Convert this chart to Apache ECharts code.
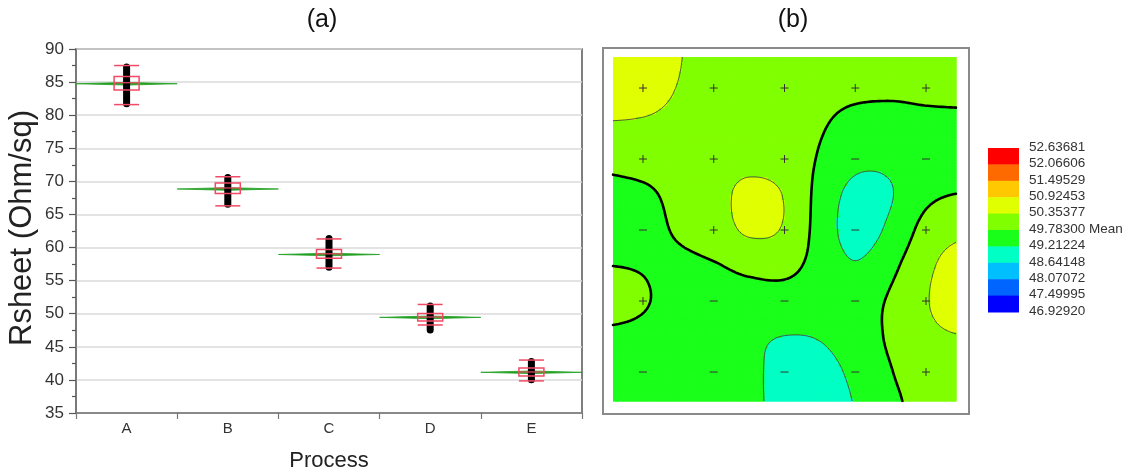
<!DOCTYPE html>
<html>
<head>
<meta charset="utf-8">
<script src="https://cdn.jsdelivr.net/npm/echarts@6/dist/echarts.min.js"></script>
<style>html,body{margin:0;padding:0;background:#fff}#chart{width:1131px;height:472px}</style>
</head>
<body>
<div id="chart"></div>
<script>
// ---------- Panel (a): Rsheet by process ----------
const categories = ['A', 'B', 'C', 'D', 'E'];
const meanValues   = [84.75, 68.85, 58.95, 49.45, 41.15];
const meanCILow    = [84.55, 68.65, 58.75, 49.25, 40.95];
const meanCIHigh   = [84.95, 69.05, 59.15, 49.65, 41.35];
const q1Values     = [83.8, 68.15, 58.4, 48.9, 40.6];
const medianValues = [84.9, 69.0, 59.05, 49.5, 41.2];
const q3Values     = [85.85, 69.75, 59.7, 50.05, 41.8];
const whiskerLow   = [81.6, 66.3, 56.9, 48.3, 39.85];
const whiskerHigh  = [87.5, 70.7, 61.3, 51.4, 43.0];
const pointMin     = [81.2, 66.0, 56.5, 47.0, 39.5];
const pointMax     = [87.8, 71.1, 61.9, 51.7, 43.3];
const yAxisMin = 35, yAxisMax = 90, yAxisStep = 5;

// ---------- Panel (b): wafer contour map ----------
// estimated Rsheet values on an 11x11 node grid (site units, nodes at -0.5,0,...,4.5), rows top->bottom
const fieldNodeStart = -0.5, fieldNodeStep = 0.5;
const fieldValues = [
  [50.868, 50.753, 50.382, 50.245, 50.131, 50.040, 50.000, 49.977, 49.971, 49.986, 49.994],
  [50.696, 50.605, 50.337, 50.217, 50.103, 50.006, 49.926, 49.880, 49.857, 49.880, 49.886],
  [50.325, 50.297, 50.217, 50.165, 50.103, 50.017, 49.834, 49.640, 49.623, 49.675, 49.703],
  [49.910, 49.994, 50.028, 50.154, 50.217, 50.103, 49.737, 49.366, 49.332, 49.492, 49.595],
  [49.660, 49.700, 49.926, 50.183, 50.468, 50.325, 49.606, 49.052, 49.184, 49.663, 49.800],
  [49.635, 49.663, 49.834, 50.074, 50.434, 50.297, 49.569, 48.984, 49.332, 49.971, 50.223],
  [49.783, 49.760, 49.697, 49.749, 49.909, 49.937, 49.589, 49.252, 49.646, 50.217, 50.639],
  [49.892, 49.812, 49.657, 49.566, 49.566, 49.549, 49.503, 49.543, 49.846, 50.314, 50.719],
  [49.726, 49.692, 49.595, 49.452, 49.326, 49.205, 49.246, 49.515, 49.857, 50.211, 50.342],
  [49.600, 49.583, 49.549, 49.429, 49.370, 48.973, 48.995, 49.349, 49.760, 50.040, 50.165],
  [49.526, 49.526, 49.475, 49.401, 49.370, 48.973, 48.870, 49.235, 49.663, 49.937, 50.051]
];
const siteCount = 5;
const contourLevels = [46.92920, 47.49995, 48.07072, 48.64148, 49.21224, 49.78300, 50.35377, 50.92453, 51.49529, 52.06606, 52.63681];
const bandColors = ['#0000ff', '#0064ff', '#00bfff', '#00ffc4', '#1aff1a', '#80ff00', '#e0ff00', '#ffc800', '#ff6a00', '#ff0000'];
const meanLevel = 49.78300;
const mapXRange = [-0.424, 4.424];
const mapYRange = [-0.437, 4.408];

// ---------- helpers ----------
function cr(p0, p1, p2, p3, t) {
  return 0.5 * (2 * p1 + (-p0 + p2) * t + (2 * p0 - 5 * p1 + 4 * p2 - p3) * t * t + (-p0 + 3 * p1 - 3 * p2 + p3) * t * t * t);
}
function fieldAt(x, y) {
  const n = fieldValues.length;
  const gx = (x - fieldNodeStart) / fieldNodeStep, gy = (y - fieldNodeStart) / fieldNodeStep;
  const ix = Math.max(0, Math.min(n - 2, Math.floor(gx)));
  const iy = Math.max(0, Math.min(n - 2, Math.floor(gy)));
  const tx = gx - ix, ty = gy - iy;
  const g = (r, c) => fieldValues[Math.max(0, Math.min(n - 1, r))][Math.max(0, Math.min(n - 1, c))];
  const rows = [];
  for (let k = -1; k <= 2; k++) {
    const r = iy + k;
    rows.push(cr(g(r, ix - 1), g(r, ix), g(r, ix + 1), g(r, ix + 2), tx));
  }
  return cr(rows[0], rows[1], rows[2], rows[3], ty);
}
function bandColor(v) {
  for (let k = 0; k < bandColors.length; k++) {
    if (v < contourLevels[k + 1]) return bandColors[k];
  }
  return bandColors[bandColors.length - 1];
}

// sample the surface
const N = 120;
const dx = (mapXRange[1] - mapXRange[0]) / N, dy = (mapYRange[1] - mapYRange[0]) / N;
const corner = [];
for (let j = 0; j <= N; j++) {
  const row = [];
  for (let i = 0; i <= N; i++) row.push(fieldAt(mapXRange[0] + i * dx, mapYRange[0] + j * dy));
  corner.push(row);
}
const cellData = [];
for (let j = 0; j < N; j++) {
  for (let i = 0; i < N; i++) {
    const x0 = mapXRange[0] + i * dx, y0 = mapYRange[0] + j * dy;
    cellData.push([x0, y0, x0 + dx, y0 + dy, fieldAt(x0 + dx / 2, y0 + dy / 2)]);
  }
}

// marching squares -> chained polylines
function contourPolylines(level) {
  const pts = {};
  const segs = [];
  function edgePoint(id, xa, ya, va, xb, yb, vb) {
    if (!pts[id]) {
      const t = (level - va) / (vb - va);
      pts[id] = [xa + t * (xb - xa), ya + t * (yb - ya)];
    }
    return id;
  }
  for (let j = 0; j < N; j++) {
    for (let i = 0; i < N; i++) {
      const x0 = mapXRange[0] + i * dx, y0 = mapYRange[0] + j * dy, x1 = x0 + dx, y1 = y0 + dy;
      const v00 = corner[j][i], v10 = corner[j][i + 1], v11 = corner[j + 1][i + 1], v01 = corner[j + 1][i];
      const ids = [];
      if ((v00 < level) !== (v10 < level)) ids.push(edgePoint('h' + i + '_' + j, x0, y0, v00, x1, y0, v10));
      if ((v10 < level) !== (v11 < level)) ids.push(edgePoint('v' + (i + 1) + '_' + j, x1, y0, v10, x1, y1, v11));
      if ((v01 < level) !== (v11 < level)) ids.push(edgePoint('h' + i + '_' + (j + 1), x0, y1, v01, x1, y1, v11));
      if ((v00 < level) !== (v01 < level)) ids.push(edgePoint('v' + i + '_' + j, x0, y0, v00, x0, y1, v01));
      if (ids.length === 2) segs.push([ids[0], ids[1]]);
      else if (ids.length === 4) {
        const c = (v00 + v10 + v11 + v01) / 4;
        if ((c < level) === (v00 < level)) { segs.push([ids[0], ids[1]]); segs.push([ids[2], ids[3]]); }
        else { segs.push([ids[0], ids[3]]); segs.push([ids[1], ids[2]]); }
      }
    }
  }
  const adj = {};
  segs.forEach((s, k) => { (adj[s[0]] = adj[s[0]] || []).push(k); (adj[s[1]] = adj[s[1]] || []).push(k); });
  const used = new Array(segs.length).fill(false);
  const lines = [];
  function walk(start, from) {
    const out = [];
    let cur = start, prevSeg = from;
    while (true) {
      const next = (adj[cur] || []).find(k => !used[k] && k !== prevSeg);
      if (next === undefined) break;
      used[next] = true;
      const s = segs[next];
      cur = s[0] === cur ? s[1] : s[0];
      out.push(cur);
      prevSeg = next;
    }
    return out;
  }
  segs.forEach((s, k) => {
    if (used[k]) return;
    used[k] = true;
    const fwd = walk(s[1], k);
    const bwd = walk(s[0], k);
    const chain = bwd.reverse().concat([s[0], s[1]]).concat(fwd);
    lines.push({ coords: chain.map(id => pts[id]) });
  });
  return lines;
}
const meanLines = contourPolylines(meanLevel);
let otherLines = [];
contourLevels.forEach(l => { if (l !== meanLevel) otherLines = otherLines.concat(contourPolylines(l)); });

// site markers (+ above mean, - below)
const siteData = [];
for (let r = 0; r < siteCount; r++) {
  for (let c = 0; c < siteCount; c++) {
    siteData.push([c, r, fieldValues[2 * r + 1][2 * c + 1] >= meanLevel ? 1 : -1]);
  }
}

// ---------- legend graphics ----------
const legendTop = 148, legendBand = 16.4, legendX = 988, legendW = 31;
const legendGraphics = [];
for (let k = 0; k < bandColors.length; k++) {
  legendGraphics.push({
    type: 'rect', left: legendX, top: legendTop + k * legendBand,
    shape: { width: legendW, height: legendBand + 0.5 },
    style: { fill: bandColors[bandColors.length - 1 - k] }
  });
}
for (let k = 0; k < contourLevels.length; k++) {
  const lv = contourLevels[contourLevels.length - 1 - k];
  legendGraphics.push({
    type: 'text', x: 1029, y: legendTop + k * legendBand - 1,
    style: {
      text: lv.toFixed(5) + (lv === meanLevel ? ' Mean' : ''),
      fontSize: 13.5, fill: '#333', fontFamily: 'Liberation Sans, Arial, sans-serif',
      align: 'left', verticalAlign: 'middle'
    }
  });
}

const boxData = categories.map((c, i) => [i, meanValues[i], meanCILow[i], meanCIHigh[i], q1Values[i], medianValues[i], q3Values[i], whiskerLow[i], whiskerHigh[i], pointMin[i], pointMax[i]]);

function renderBox(params, api) {
  const i = api.value(0);
  const bw = api.size([1, 0])[0];
  const y = v => api.coord([i, v])[1];
  const cx = api.coord([i, api.value(1)])[0];
  const ym = y(api.value(1));
  const red = '#f04a64';
  const half = 12.5, dotHalf = 3.5;
  const yq1 = y(api.value(4)), ymed = y(api.value(5)), yq3 = y(api.value(6));
  const ywl = y(api.value(7)), ywh = y(api.value(8));
  const ypmin = y(api.value(9)), ypmax = y(api.value(10));
  return {
    type: 'group',
    children: [
      { type: 'polygon', shape: { points: [[cx - bw / 2, ym], [cx, y(api.value(3))], [cx + bw / 2, ym], [cx, y(api.value(2))]] },
        style: { fill: '#22a022', stroke: '#22a022', lineWidth: 0.8 } },
      { type: 'line', shape: { x1: cx, y1: ywh, x2: cx, y2: ywl }, style: { stroke: red, lineWidth: 1.2 } },
      { type: 'rect', shape: { x: cx - dotHalf, y: ypmax, width: dotHalf * 2, height: ypmin - ypmax, r: dotHalf }, style: { fill: '#000' } },
      { type: 'rect', shape: { x: cx - half, y: yq3, width: half * 2, height: yq1 - yq3 }, style: { fill: 'rgba(0,0,0,0)', stroke: red, lineWidth: 1.5 } },
      { type: 'line', shape: { x1: cx - half, y1: ymed, x2: cx + half, y2: ymed }, style: { stroke: red, lineWidth: 1.2 } },
      { type: 'line', shape: { x1: cx - half, y1: ywh, x2: cx + half, y2: ywh }, style: { stroke: red, lineWidth: 1.5 } },
      { type: 'line', shape: { x1: cx - half, y1: ywl, x2: cx + half, y2: ywl }, style: { stroke: red, lineWidth: 1.5 } }
    ]
  };
}

const chart = echarts.init(document.getElementById('chart'), null, { renderer: 'canvas' });
chart.setOption({
  animation: false,
  backgroundColor: '#fff',
  textStyle: { fontFamily: 'Liberation Sans, Arial, sans-serif' },
  grid: [
    { left: 76, top: 49, width: 506, height: 364, show: true, borderColor: '#555', borderWidth: 1.5, backgroundColor: '#fff', containLabel: false, outerBoundsMode: 'none' },
    { left: 613, top: 57, width: 343, height: 344, show: false, containLabel: false, outerBoundsMode: 'none' }
  ],
  xAxis: [
    { gridIndex: 0, type: 'category', data: categories, boundaryGap: true,
      axisLine: { lineStyle: { color: '#777', width: 1.5 } },
      axisTick: { show: true, length: 6, lineStyle: { color: '#777', width: 1.2 } },
      axisLabel: { fontSize: 15, color: '#333', margin: 8 },
      name: 'Process', nameLocation: 'middle', nameGap: 37,
      nameTextStyle: { fontSize: 22, color: '#222' } },
    { gridIndex: 1, type: 'value', min: mapXRange[0], max: mapXRange[1], show: false }
  ],
  yAxis: [
    { gridIndex: 0, type: 'value', min: yAxisMin, max: yAxisMax, interval: yAxisStep,
      axisLine: { show: true, lineStyle: { color: '#777', width: 1.5 } },
      axisTick: { show: true, length: 7, lineStyle: { color: '#555', width: 1.2 } },
      minorTick: { show: true, splitNumber: 2, length: 4, lineStyle: { color: '#555', width: 1.2 } },
      splitLine: { show: true, lineStyle: { color: '#dadada', width: 1.5 } },
      axisLabel: { fontSize: 17, color: '#333', margin: 12 } },
    { gridIndex: 1, type: 'value', min: mapYRange[0], max: mapYRange[1], inverse: true, show: false }
  ],
  graphic: [
    { type: 'text', x: 322, y: 20, style: { text: '(a)', fontSize: 25, fill: '#111', align: 'center', verticalAlign: 'middle', fontFamily: 'Liberation Sans, Arial, sans-serif' } },
    { type: 'text', x: 793, y: 20, style: { text: '(b)', fontSize: 25, fill: '#111', align: 'center', verticalAlign: 'middle', fontFamily: 'Liberation Sans, Arial, sans-serif' } },
    { type: 'text', x: 22, y: 228, rotation: Math.PI / 2, style: { text: 'Rsheet (Ohm/sq)', fontSize: 31, fill: '#222', align: 'center', verticalAlign: 'middle', fontFamily: 'Liberation Sans, Arial, sans-serif' } },
    { type: 'rect', left: 602, top: 47, shape: { width: 366, height: 366 }, style: { fill: 'rgba(0,0,0,0)', stroke: '#8a8a8a', lineWidth: 2 } }
  ].concat(legendGraphics),
  series: [
    { type: 'custom', name: 'Rsheet', xAxisIndex: 0, yAxisIndex: 0, data: boxData, renderItem: renderBox,
      encode: { x: 0, y: [1, 2, 3, 4, 5, 6, 7, 8, 9, 10] }, silent: true },
    { type: 'custom', name: 'map', xAxisIndex: 1, yAxisIndex: 1, data: cellData, clip: true, silent: true,
      encode: { x: [0, 2], y: [1, 3] },
      renderItem: function (params, api) {
        const p0 = api.coord([api.value(0), api.value(1)]);
        const p1 = api.coord([api.value(2), api.value(3)]);
        return { type: 'rect',
          shape: { x: Math.min(p0[0], p1[0]), y: Math.min(p0[1], p1[1]), width: Math.abs(p1[0] - p0[0]) + 0.7, height: Math.abs(p1[1] - p0[1]) + 0.7 },
          style: { fill: bandColor(api.value(4)) } };
      } },
    { type: 'lines', name: 'levels', coordinateSystem: 'cartesian2d', xAxisIndex: 1, yAxisIndex: 1, polyline: true,
      data: otherLines, silent: true, lineStyle: { color: '#4a4a3a', width: 0.9, opacity: 1 } },
    { type: 'lines', name: 'mean', coordinateSystem: 'cartesian2d', xAxisIndex: 1, yAxisIndex: 1, polyline: true,
      data: meanLines, silent: true, lineStyle: { color: '#000', width: 2.6, opacity: 1, cap: 'round', join: 'round' } },
    { type: 'custom', name: 'sites', xAxisIndex: 1, yAxisIndex: 1, data: siteData, silent: true,
      encode: { x: 0, y: 1 },
      renderItem: function (params, api) {
        const p = api.coord([api.value(0), api.value(1)]);
        const s = 4;
        const children = [{ type: 'line', shape: { x1: p[0] - s, y1: p[1], x2: p[0] + s, y2: p[1] }, style: { stroke: '#333', lineWidth: 1 } }];
        if (api.value(2) > 0) children.push({ type: 'line', shape: { x1: p[0], y1: p[1] - s, x2: p[0], y2: p[1] + s }, style: { stroke: '#333', lineWidth: 1 } });
        return { type: 'group', children: children };
      } }
  ]
});
</script>
</body>
</html>
